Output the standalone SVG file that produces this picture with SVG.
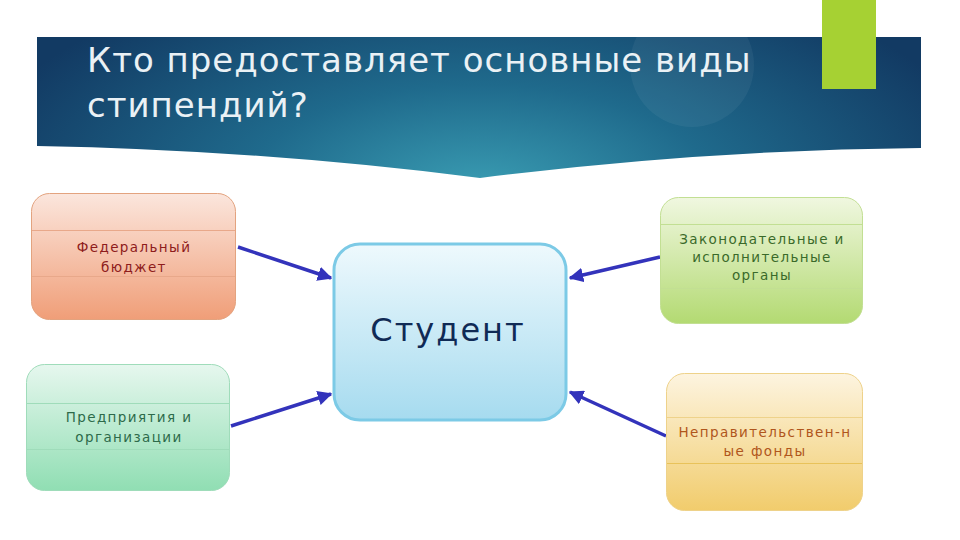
<svg xmlns="http://www.w3.org/2000/svg" width="960" height="540" viewBox="0 0 960 540">
<defs>
<radialGradient id="ban" cx="480" cy="190" r="520" gradientUnits="userSpaceOnUse" gradientTransform="translate(480 190) scale(1 0.45) translate(-480 -190)">
<stop offset="0" stop-color="#3a9db3"/>
<stop offset="0.45" stop-color="#1f6a8c"/>
<stop offset="1" stop-color="#123a63"/>
</radialGradient>
<linearGradient id="gRed" x1="0" y1="0" x2="0" y2="1"><stop offset="0" stop-color="#fbe6dd"/><stop offset="1" stop-color="#f09e78"/></linearGradient>
<linearGradient id="gMint" x1="0" y1="0" x2="0" y2="1"><stop offset="0" stop-color="#e6f7ee"/><stop offset="1" stop-color="#90deb3"/></linearGradient>
<linearGradient id="gLime" x1="0" y1="0" x2="0" y2="1"><stop offset="0" stop-color="#f0f7e0"/><stop offset="1" stop-color="#b3da72"/></linearGradient>
<linearGradient id="gGold" x1="0" y1="0" x2="0" y2="1"><stop offset="0" stop-color="#fdf4e0"/><stop offset="1" stop-color="#f1cc6c"/></linearGradient>
<linearGradient id="gBlue" x1="0" y1="0" x2="0" y2="1"><stop offset="0" stop-color="#eef9fd"/><stop offset="1" stop-color="#a6dbef"/></linearGradient>
<marker id="ah" viewBox="0 0 10 10" refX="9" refY="5" markerWidth="4.2" markerHeight="4.2" orient="auto" markerUnits="strokeWidth">
<path d="M0,0 L10,5 L0,10 z" fill="#3333bb"/>
</marker>
</defs>
<style>
.t{font-family:"DejaVu Sans","Noto Sans",sans-serif;}
.lbl{font-size:13.5px;text-anchor:middle;letter-spacing:1.4px;}
.div{stroke-width:1;}
.con{stroke:#3333bb;stroke-width:3.5;fill:none;marker-end:url(#ah);}
</style>
<rect width="960" height="540" fill="#ffffff"/>
<g id="banner">
<path d="M37,37 H921 V148 Q700,150 480,178 Q260,150 37,146 Z" fill="url(#ban)"/>
<circle cx="692" cy="65" r="62" fill="#ffffff" opacity="0.05"/>
<rect x="822" y="0" width="54" height="89" fill="#a6d133"/>
<text class="t" x="87" y="72" font-size="34" letter-spacing="1" fill="#eaf1f5">Кто предоставляет основные виды</text>
<text class="t" x="87" y="117" font-size="34" letter-spacing="1" fill="#eaf1f5">стипендий?</text>
</g>
<g id="connectors">
<line class="con" x1="238" y1="247" x2="331" y2="278"/>
<line class="con" x1="231" y1="426" x2="331" y2="394"/>
<line class="con" x1="660" y1="257" x2="570" y2="278"/>
<line class="con" x1="666" y1="436" x2="570" y2="392"/>
</g>
<g id="student">
<rect x="334" y="244" width="232" height="176" rx="26" fill="url(#gBlue)" stroke="#7ccae6" stroke-width="3"/>
<text class="t" x="448" y="341" font-size="32" letter-spacing="2" text-anchor="middle" fill="#102a55">Студент</text>
</g>
<g id="federal">
<rect x="31.5" y="193.5" width="204" height="126" rx="18" fill="url(#gRed)" stroke="#e3a37f"/>
<line class="div" x1="32" y1="230.5" x2="235" y2="230.5" stroke="#e8a88a"/>
<line class="div" x1="32" y1="276.5" x2="235" y2="276.5" stroke="#e8a88a"/>
<text class="t lbl" x="134" y="252" fill="#8e1c1c">Федеральный</text>
<text class="t lbl" x="134" y="272" fill="#8e1c1c">бюджет</text>
</g>
<g id="enterprises">
<rect x="26.5" y="364.5" width="203" height="126" rx="18" fill="url(#gMint)" stroke="#9fdcba"/>
<line class="div" x1="27" y1="403.5" x2="229" y2="403.5" stroke="#9fdcba"/>
<line class="div" x1="27" y1="449.5" x2="229" y2="449.5" stroke="#9fdcba"/>
<text class="t lbl" x="129" y="422" fill="#2d6a4a">Предприятия и</text>
<text class="t lbl" x="129" y="442" fill="#2d6a4a">организации</text>
</g>
<g id="legislative">
<rect x="660.5" y="197.5" width="202" height="126" rx="18" fill="url(#gLime)" stroke="#c2df93"/>
<line class="div" x1="661" y1="224.5" x2="862" y2="224.5" stroke="#c2df93"/>
<line class="div" x1="661" y1="288.5" x2="862" y2="288.5" stroke="#c2df93"/>
<text class="t lbl" x="762" y="244" fill="#3a6a2a">Законодательные и</text>
<text class="t lbl" x="762" y="262" fill="#3a6a2a">исполнительные</text>
<text class="t lbl" x="762" y="280" fill="#3a6a2a">органы</text>
</g>
<g id="ngo">
<rect x="666.5" y="373.5" width="196" height="137" rx="18" fill="url(#gGold)" stroke="#eed28a"/>
<line class="div" x1="667" y1="417.5" x2="862" y2="417.5" stroke="#eed28a"/>
<line class="div" x1="667" y1="463.5" x2="862" y2="463.5" stroke="#e8c25a"/>
<text class="t lbl" x="765" y="437" fill="#b0561c">Неправительствен-н</text>
<text class="t lbl" x="765" y="456" fill="#b0561c">ые фонды</text>
</g>
</svg>
